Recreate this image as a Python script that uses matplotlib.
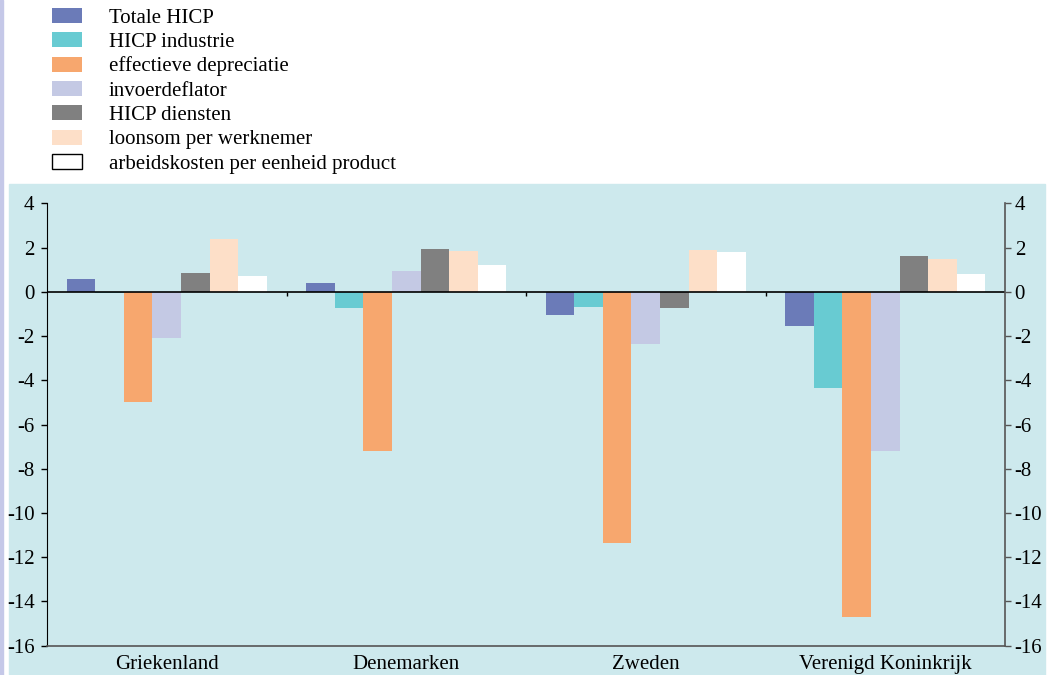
import numpy as np
import matplotlib
matplotlib.use("Agg")
import matplotlib.pyplot as plt
from matplotlib.patches import Patch, Rectangle

plt.rcParams['font.family'] = ['Liberation Serif', 'DejaVu Serif']
plt.rcParams['axes.unicode_minus'] = False

landen = ["Griekenland", "Denemarken", "Zweden", "Verenigd Koninkrijk"]
reeksen = ["Totale HICP", "HICP industrie", "effectieve depreciatie",
           "invoerdeflator", "HICP diensten", "loonsom per werknemer",
           "arbeidskosten per eenheid product"]
kleuren = ["#6b7bb8", "#68cbd2", "#f7a76e", "#c4c9e4", "#808080", "#fddfc8", "#ffffff"]

totale_hicp = [0.6, 0.4, -1.05, -1.55]
hicp_industrie = [-0.05, -0.75, -0.7, -4.35]
effectieve_depreciatie = [-5.0, -7.2, -11.35, -14.7]
invoerdeflator = [-2.1, 0.95, -2.35, -7.2]
hicp_diensten = [0.85, 1.95, -0.75, 1.6]
loonsom = [2.4, 1.85, 1.9, 1.5]
arbeidskosten = [0.7, 1.2, 1.8, 0.8]
waarden = [totale_hicp, hicp_industrie, effectieve_depreciatie, invoerdeflator,
           hicp_diensten, loonsom, arbeidskosten]

fig = plt.figure(figsize=(10.48, 6.75), dpi=100)

# achtergrondvlak achter de grafiek en smalle rand links
fig.patches.append(Rectangle((9 / 1048, 0), 1036 / 1048, 491 / 675,
                             transform=fig.transFigure, color="#cde9ed", zorder=-10))
fig.patches.append(Rectangle((0, 0), 2.5 / 1048, 1,
                             transform=fig.transFigure, color="#c5c8e8", zorder=-10))

ax = fig.add_axes([47 / 1048, 29.3 / 675, 958 / 1048, 442.4 / 675])
ax.set_facecolor("none")

x = np.arange(len(landen))
breedte = 0.119
for i, (naam, kleur, vals) in enumerate(zip(reeksen, kleuren, waarden)):
    ax.bar(x + (i - 3) * breedte, vals, breedte, color=kleur, linewidth=0, zorder=2)

ax.axhline(0, color="black", lw=1.2, zorder=3)
ax.vlines([0.5, 1.5, 2.5], -0.18, 0, color="black", lw=1, zorder=3)

ax.set_xlim(-0.5, 3.5)
ax.set_ylim(-16, 4)
ax.set_yticks(np.arange(-16, 5, 2))
ax.set_xticks(x)
ax.set_xticklabels(landen)
ax.tick_params(axis="x", length=0, pad=7, labelsize=15)
ax.tick_params(axis="y", direction="out", length=4, width=1, pad=5, labelsize=15)
ax.spines["top"].set_visible(False)
ax.spines["right"].set_visible(False)
ax.spines["left"].set_color("black")
ax.spines["bottom"].set_color("#555555")
ax.spines["bottom"].set_linewidth(1.2)

ax2 = ax.twinx()
ax2.set_facecolor("none")
ax2.set_ylim(-16, 4)
ax2.set_yticks(np.arange(-16, 5, 2))
ax2.tick_params(axis="y", direction="out", length=4, width=1, pad=3,
                labelsize=15, color="#555555")
for s in ["top", "left", "bottom"]:
    ax2.spines[s].set_visible(False)
ax2.spines["right"].set_color("#555555")
ax2.spines["right"].set_linewidth(1.2)

handles = [Patch(facecolor=k, edgecolor="black" if k == "#ffffff" else k,
                 linewidth=1 if k == "#ffffff" else 0) for k in kleuren]
fig.legend(handles, reeksen, loc="upper left", bbox_to_anchor=(52 / 1048, 1 - 8 / 675),
           frameon=False, fontsize=15, borderpad=0, borderaxespad=0,
           handlelength=1.43, handleheight=0.72, handletextpad=1.3, labelspacing=0.22)

fig.savefig("out.png", dpi=100)
